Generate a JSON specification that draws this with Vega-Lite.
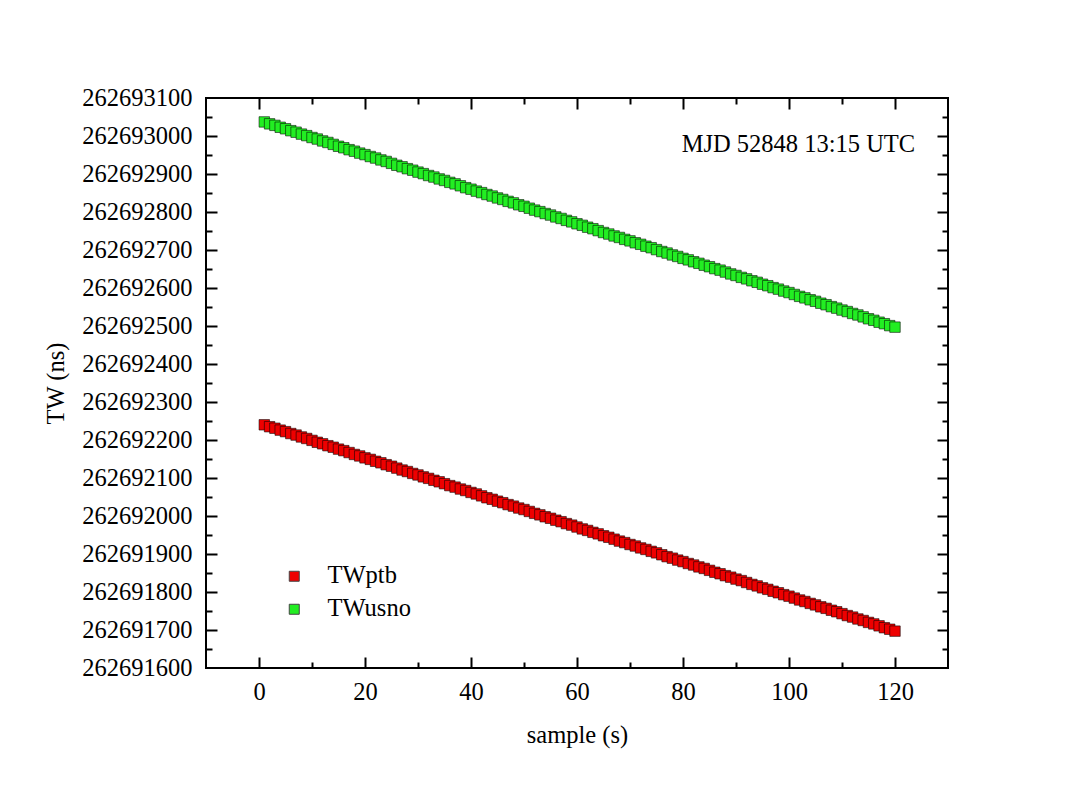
{
  "$schema": "https://vega.github.io/schema/vega-lite/v6.json",
  "width": 742,
  "height": 570,
  "autosize": {"type": "none"},
  "padding": {"left": 206, "top": 98, "right": 140, "bottom": 126},
  "background": "white",
  "config": {
    "font": "Liberation Serif",
    "view": {"stroke": "black", "strokeWidth": 2},
    "axis": {"labelColor": "black", "titleColor": "black", "titleFontWeight": "normal", "labelFont": "Liberation Serif", "titleFont": "Liberation Serif", "grid": false, "tickColor": "black", "tickWidth": 2, "domain": false},
    "legend": {"labelFont": "Liberation Serif", "labelColor": "black"}
  },
  "data": {"values": [
    {"s":1,"k":"TWptb","v":262692240},{"s":2,"k":"TWptb","v":262692235},{"s":3,"k":"TWptb","v":262692231},{"s":4,"k":"TWptb","v":262692226},{"s":5,"k":"TWptb","v":262692222},
    {"s":6,"k":"TWptb","v":262692217},{"s":7,"k":"TWptb","v":262692213},{"s":8,"k":"TWptb","v":262692208},{"s":9,"k":"TWptb","v":262692204},{"s":10,"k":"TWptb","v":262692199},
    {"s":11,"k":"TWptb","v":262692194},{"s":12,"k":"TWptb","v":262692190},{"s":13,"k":"TWptb","v":262692185},{"s":14,"k":"TWptb","v":262692181},{"s":15,"k":"TWptb","v":262692176},
    {"s":16,"k":"TWptb","v":262692172},{"s":17,"k":"TWptb","v":262692167},{"s":18,"k":"TWptb","v":262692162},{"s":19,"k":"TWptb","v":262692158},{"s":20,"k":"TWptb","v":262692153},
    {"s":21,"k":"TWptb","v":262692149},{"s":22,"k":"TWptb","v":262692144},{"s":23,"k":"TWptb","v":262692140},{"s":24,"k":"TWptb","v":262692135},{"s":25,"k":"TWptb","v":262692131},
    {"s":26,"k":"TWptb","v":262692126},{"s":27,"k":"TWptb","v":262692121},{"s":28,"k":"TWptb","v":262692117},{"s":29,"k":"TWptb","v":262692112},{"s":30,"k":"TWptb","v":262692108},
    {"s":31,"k":"TWptb","v":262692103},{"s":32,"k":"TWptb","v":262692099},{"s":33,"k":"TWptb","v":262692094},{"s":34,"k":"TWptb","v":262692090},{"s":35,"k":"TWptb","v":262692085},
    {"s":36,"k":"TWptb","v":262692080},{"s":37,"k":"TWptb","v":262692076},{"s":38,"k":"TWptb","v":262692071},{"s":39,"k":"TWptb","v":262692067},{"s":40,"k":"TWptb","v":262692062},
    {"s":41,"k":"TWptb","v":262692058},{"s":42,"k":"TWptb","v":262692053},{"s":43,"k":"TWptb","v":262692048},{"s":44,"k":"TWptb","v":262692044},{"s":45,"k":"TWptb","v":262692039},
    {"s":46,"k":"TWptb","v":262692035},{"s":47,"k":"TWptb","v":262692030},{"s":48,"k":"TWptb","v":262692026},{"s":49,"k":"TWptb","v":262692021},{"s":50,"k":"TWptb","v":262692017},
    {"s":51,"k":"TWptb","v":262692012},{"s":52,"k":"TWptb","v":262692007},{"s":53,"k":"TWptb","v":262692003},{"s":54,"k":"TWptb","v":262691998},{"s":55,"k":"TWptb","v":262691994},
    {"s":56,"k":"TWptb","v":262691989},{"s":57,"k":"TWptb","v":262691985},{"s":58,"k":"TWptb","v":262691980},{"s":59,"k":"TWptb","v":262691976},{"s":60,"k":"TWptb","v":262691971},
    {"s":61,"k":"TWptb","v":262691966},{"s":62,"k":"TWptb","v":262691962},{"s":63,"k":"TWptb","v":262691957},{"s":64,"k":"TWptb","v":262691953},{"s":65,"k":"TWptb","v":262691948},
    {"s":66,"k":"TWptb","v":262691944},{"s":67,"k":"TWptb","v":262691939},{"s":68,"k":"TWptb","v":262691934},{"s":69,"k":"TWptb","v":262691930},{"s":70,"k":"TWptb","v":262691925},
    {"s":71,"k":"TWptb","v":262691921},{"s":72,"k":"TWptb","v":262691916},{"s":73,"k":"TWptb","v":262691912},{"s":74,"k":"TWptb","v":262691907},{"s":75,"k":"TWptb","v":262691903},
    {"s":76,"k":"TWptb","v":262691898},{"s":77,"k":"TWptb","v":262691893},{"s":78,"k":"TWptb","v":262691889},{"s":79,"k":"TWptb","v":262691884},{"s":80,"k":"TWptb","v":262691880},
    {"s":81,"k":"TWptb","v":262691875},{"s":82,"k":"TWptb","v":262691871},{"s":83,"k":"TWptb","v":262691866},{"s":84,"k":"TWptb","v":262691862},{"s":85,"k":"TWptb","v":262691857},
    {"s":86,"k":"TWptb","v":262691852},{"s":87,"k":"TWptb","v":262691848},{"s":88,"k":"TWptb","v":262691843},{"s":89,"k":"TWptb","v":262691839},{"s":90,"k":"TWptb","v":262691834},
    {"s":91,"k":"TWptb","v":262691830},{"s":92,"k":"TWptb","v":262691825},{"s":93,"k":"TWptb","v":262691820},{"s":94,"k":"TWptb","v":262691816},{"s":95,"k":"TWptb","v":262691811},
    {"s":96,"k":"TWptb","v":262691807},{"s":97,"k":"TWptb","v":262691802},{"s":98,"k":"TWptb","v":262691798},{"s":99,"k":"TWptb","v":262691793},{"s":100,"k":"TWptb","v":262691789},
    {"s":101,"k":"TWptb","v":262691784},{"s":102,"k":"TWptb","v":262691779},{"s":103,"k":"TWptb","v":262691775},{"s":104,"k":"TWptb","v":262691770},{"s":105,"k":"TWptb","v":262691766},
    {"s":106,"k":"TWptb","v":262691761},{"s":107,"k":"TWptb","v":262691757},{"s":108,"k":"TWptb","v":262691752},{"s":109,"k":"TWptb","v":262691748},{"s":110,"k":"TWptb","v":262691743},
    {"s":111,"k":"TWptb","v":262691738},{"s":112,"k":"TWptb","v":262691734},{"s":113,"k":"TWptb","v":262691729},{"s":114,"k":"TWptb","v":262691725},{"s":115,"k":"TWptb","v":262691720},
    {"s":116,"k":"TWptb","v":262691716},{"s":117,"k":"TWptb","v":262691711},{"s":118,"k":"TWptb","v":262691706},{"s":119,"k":"TWptb","v":262691702},{"s":120,"k":"TWptb","v":262691697},
    {"s":1,"k":"TWusno","v":262693037},{"s":2,"k":"TWusno","v":262693032},{"s":3,"k":"TWusno","v":262693028},{"s":4,"k":"TWusno","v":262693023},{"s":5,"k":"TWusno","v":262693019},
    {"s":6,"k":"TWusno","v":262693014},{"s":7,"k":"TWusno","v":262693010},{"s":8,"k":"TWusno","v":262693005},{"s":9,"k":"TWusno","v":262693001},{"s":10,"k":"TWusno","v":262692996},
    {"s":11,"k":"TWusno","v":262692992},{"s":12,"k":"TWusno","v":262692987},{"s":13,"k":"TWusno","v":262692983},{"s":14,"k":"TWusno","v":262692978},{"s":15,"k":"TWusno","v":262692973},
    {"s":16,"k":"TWusno","v":262692969},{"s":17,"k":"TWusno","v":262692964},{"s":18,"k":"TWusno","v":262692960},{"s":19,"k":"TWusno","v":262692955},{"s":20,"k":"TWusno","v":262692951},
    {"s":21,"k":"TWusno","v":262692946},{"s":22,"k":"TWusno","v":262692942},{"s":23,"k":"TWusno","v":262692937},{"s":24,"k":"TWusno","v":262692933},{"s":25,"k":"TWusno","v":262692928},
    {"s":26,"k":"TWusno","v":262692923},{"s":27,"k":"TWusno","v":262692919},{"s":28,"k":"TWusno","v":262692914},{"s":29,"k":"TWusno","v":262692910},{"s":30,"k":"TWusno","v":262692905},
    {"s":31,"k":"TWusno","v":262692901},{"s":32,"k":"TWusno","v":262692896},{"s":33,"k":"TWusno","v":262692892},{"s":34,"k":"TWusno","v":262692887},{"s":35,"k":"TWusno","v":262692883},
    {"s":36,"k":"TWusno","v":262692878},{"s":37,"k":"TWusno","v":262692874},{"s":38,"k":"TWusno","v":262692869},{"s":39,"k":"TWusno","v":262692864},{"s":40,"k":"TWusno","v":262692860},
    {"s":41,"k":"TWusno","v":262692855},{"s":42,"k":"TWusno","v":262692851},{"s":43,"k":"TWusno","v":262692846},{"s":44,"k":"TWusno","v":262692842},{"s":45,"k":"TWusno","v":262692837},
    {"s":46,"k":"TWusno","v":262692833},{"s":47,"k":"TWusno","v":262692828},{"s":48,"k":"TWusno","v":262692824},{"s":49,"k":"TWusno","v":262692819},{"s":50,"k":"TWusno","v":262692815},
    {"s":51,"k":"TWusno","v":262692810},{"s":52,"k":"TWusno","v":262692805},{"s":53,"k":"TWusno","v":262692801},{"s":54,"k":"TWusno","v":262692796},{"s":55,"k":"TWusno","v":262692792},
    {"s":56,"k":"TWusno","v":262692787},{"s":57,"k":"TWusno","v":262692783},{"s":58,"k":"TWusno","v":262692778},{"s":59,"k":"TWusno","v":262692774},{"s":60,"k":"TWusno","v":262692769},
    {"s":61,"k":"TWusno","v":262692765},{"s":62,"k":"TWusno","v":262692760},{"s":63,"k":"TWusno","v":262692756},{"s":64,"k":"TWusno","v":262692751},{"s":65,"k":"TWusno","v":262692746},
    {"s":66,"k":"TWusno","v":262692742},{"s":67,"k":"TWusno","v":262692737},{"s":68,"k":"TWusno","v":262692733},{"s":69,"k":"TWusno","v":262692728},{"s":70,"k":"TWusno","v":262692724},
    {"s":71,"k":"TWusno","v":262692719},{"s":72,"k":"TWusno","v":262692715},{"s":73,"k":"TWusno","v":262692710},{"s":74,"k":"TWusno","v":262692706},{"s":75,"k":"TWusno","v":262692701},
    {"s":76,"k":"TWusno","v":262692696},{"s":77,"k":"TWusno","v":262692692},{"s":78,"k":"TWusno","v":262692687},{"s":79,"k":"TWusno","v":262692683},{"s":80,"k":"TWusno","v":262692678},
    {"s":81,"k":"TWusno","v":262692674},{"s":82,"k":"TWusno","v":262692669},{"s":83,"k":"TWusno","v":262692665},{"s":84,"k":"TWusno","v":262692660},{"s":85,"k":"TWusno","v":262692656},
    {"s":86,"k":"TWusno","v":262692651},{"s":87,"k":"TWusno","v":262692647},{"s":88,"k":"TWusno","v":262692642},{"s":89,"k":"TWusno","v":262692637},{"s":90,"k":"TWusno","v":262692633},
    {"s":91,"k":"TWusno","v":262692628},{"s":92,"k":"TWusno","v":262692624},{"s":93,"k":"TWusno","v":262692619},{"s":94,"k":"TWusno","v":262692615},{"s":95,"k":"TWusno","v":262692610},
    {"s":96,"k":"TWusno","v":262692606},{"s":97,"k":"TWusno","v":262692601},{"s":98,"k":"TWusno","v":262692597},{"s":99,"k":"TWusno","v":262692592},{"s":100,"k":"TWusno","v":262692588},
    {"s":101,"k":"TWusno","v":262692583},{"s":102,"k":"TWusno","v":262692578},{"s":103,"k":"TWusno","v":262692574},{"s":104,"k":"TWusno","v":262692569},{"s":105,"k":"TWusno","v":262692565},
    {"s":106,"k":"TWusno","v":262692560},{"s":107,"k":"TWusno","v":262692556},{"s":108,"k":"TWusno","v":262692551},{"s":109,"k":"TWusno","v":262692547},{"s":110,"k":"TWusno","v":262692542},
    {"s":111,"k":"TWusno","v":262692538},{"s":112,"k":"TWusno","v":262692533},{"s":113,"k":"TWusno","v":262692529},{"s":114,"k":"TWusno","v":262692524},{"s":115,"k":"TWusno","v":262692519},
    {"s":116,"k":"TWusno","v":262692515},{"s":117,"k":"TWusno","v":262692510},{"s":118,"k":"TWusno","v":262692506},{"s":119,"k":"TWusno","v":262692501},{"s":120,"k":"TWusno","v":262692497}
  ]},
  "resolve": {"axis": {"x": "independent", "y": "independent"}},
  "layer": [
    {
      "mark": {"type": "point", "shape": "square", "filled": true, "size": 110, "opacity": 1, "stroke": "black", "strokeOpacity": 0.55, "strokeWidth": 1},
      "encoding": {
        "x": {"field": "s", "type": "quantitative", "scale": {"domain": [-10, 130], "nice": false, "zero": false},
              "axis": {"orient": "bottom", "values": [0, 20, 40, 60, 80, 100, 120], "ticks": false, "labelPadding": 12, "labelFontSize": 24.5, "title": "sample (s)", "titleFontSize": 24.5, "titlePadding": 20}},
        "y": {"field": "v", "type": "quantitative", "scale": {"domain": [262691600, 262693100], "nice": false, "zero": false},
              "axis": {"orient": "left", "values": [262691600, 262691700, 262691800, 262691900, 262692000, 262692100, 262692200, 262692300, 262692400, 262692500, 262692600, 262692700, 262692800, 262692900, 262693000, 262693100], "format": "d", "ticks": false, "labelPadding": 14, "labelFontSize": 24.5, "title": "TW (ns)", "titleFontSize": 24.5, "titlePadding": 13}},
        "color": {"field": "k", "type": "nominal", "scale": {"domain": ["TWptb", "TWusno"], "range": ["#ee0000", "#22ee22"]},
                  "legend": {"title": null, "orient": "none", "legendX": 76, "legendY": 466, "padding": 0, "labelFontSize": 24.5, "symbolType": "square", "symbolSize": 100, "symbolStrokeColor": "#444444", "symbolStrokeWidth": 1, "labelOffset": 21, "rowPadding": 8}}
      }
    },
    {
      "mark": {"type": "point", "opacity": 0},
      "encoding": {
        "x": {"field": "s", "type": "quantitative", "axis": {"orient": "bottom", "values": [0, 20, 40, 60, 80, 100, 120], "labels": false, "tickSize": -11, "title": null}},
        "y": {"field": "v", "type": "quantitative", "axis": {"orient": "left", "values": [262691700, 262691800, 262691900, 262692000, 262692100, 262692200, 262692300, 262692400, 262692500, 262692600, 262692700, 262692800, 262692900, 262693000], "labels": false, "tickSize": -11, "title": null}}
      }
    },
    {
      "mark": {"type": "point", "opacity": 0},
      "encoding": {
        "x": {"field": "s", "type": "quantitative", "axis": {"orient": "bottom", "values": [10, 30, 50, 70, 90, 110], "labels": false, "tickSize": -6, "title": null}},
        "y": {"field": "v", "type": "quantitative", "axis": {"orient": "left", "values": [262691650, 262691750, 262691850, 262691950, 262692050, 262692150, 262692250, 262692350, 262692450, 262692550, 262692650, 262692750, 262692850, 262692950, 262693050], "labels": false, "tickSize": -6, "title": null}}
      }
    },
    {
      "mark": {"type": "point", "opacity": 0},
      "encoding": {
        "x": {"field": "s", "type": "quantitative", "axis": {"orient": "top", "values": [0, 20, 40, 60, 80, 100, 120], "labels": false, "tickSize": -11, "title": null}},
        "y": {"field": "v", "type": "quantitative", "axis": {"orient": "right", "values": [262691700, 262691800, 262691900, 262692000, 262692100, 262692200, 262692300, 262692400, 262692500, 262692600, 262692700, 262692800, 262692900, 262693000], "labels": false, "tickSize": -11, "title": null}}
      }
    },
    {
      "mark": {"type": "point", "opacity": 0},
      "encoding": {
        "x": {"field": "s", "type": "quantitative", "axis": {"orient": "top", "values": [10, 30, 50, 70, 90, 110], "labels": false, "tickSize": -6, "title": null}},
        "y": {"field": "v", "type": "quantitative", "axis": {"orient": "right", "values": [262691650, 262691750, 262691850, 262691950, 262692050, 262692150, 262692250, 262692350, 262692450, 262692550, 262692650, 262692750, 262692850, 262692950, 262693050], "labels": false, "tickSize": -6, "title": null}}
      }
    },
    {
      "data": {"values": [{"s": 123.8, "v": 262692958, "t": "MJD 52848 13:15 UTC"}]},
      "mark": {"type": "text", "align": "right", "baseline": "alphabetic", "font": "Liberation Serif", "fontSize": 24.5, "color": "black"},
      "encoding": {
        "x": {"field": "s", "type": "quantitative", "axis": null},
        "y": {"field": "v", "type": "quantitative", "axis": null},
        "text": {"field": "t"}
      }
    }
  ]
}
